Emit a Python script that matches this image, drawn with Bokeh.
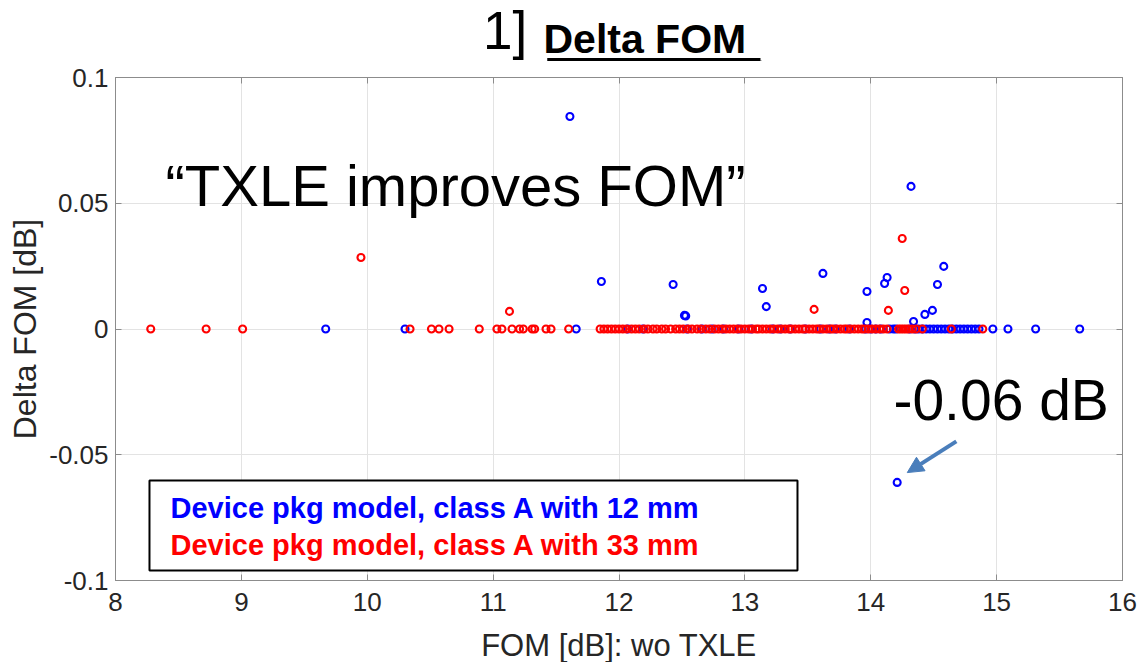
from bokeh.plotting import figure
from bokeh.layouts import column
from bokeh.models import (ColumnDataSource, FixedTicker, LinearAxis, Label, BoxAnnotation,
                          Arrow, NormalHead, Range1d, NumeralTickFormatter, CustomJSTickFormatter)
from bokeh.embed import file_html
from bokeh.resources import INLINE

# ---------------- data ----------------
x_ticks = [8, 9, 10, 11, 12, 13, 14, 15, 16]
y_ticks = [-0.1, -0.05, 0, 0.05, 0.1]

# 12 mm model (blue): FOM values whose delta is 0
blue_fom_zero = [9.67, 10.30, 11.66, 12.07, 12.19, 12.54, 12.66, 12.74, 12.83, 12.95,
                 13.05, 13.22, 13.28, 13.36, 13.48, 13.60, 13.67, 13.72, 13.83, 13.96,
                 14.00, 14.04, 14.08, 14.15, 14.18, 14.20, 14.31, 14.35, 14.38, 14.41,
                 14.44, 14.47, 14.50, 14.53, 14.56, 14.59, 14.62, 14.65, 14.68, 14.71,
                 14.74, 14.77, 14.80, 14.83, 14.86, 14.97, 15.09, 15.31, 15.66]
# 12 mm model (blue): points with non-zero delta
blue_fom_nz = [11.61, 14.32, 11.86, 12.43, 12.52, 12.53, 13.14, 13.17, 13.62, 13.97,
               13.97, 14.11, 14.13, 14.34, 14.43, 14.49, 14.53, 14.58, 14.21]
blue_delta_nz = [0.0845, 0.0567, 0.0189, 0.0177, 0.0054, 0.0052, 0.0161, 0.0089, 0.0221, 0.0149,
                 0.0026, 0.0181, 0.0205, 0.0030, 0.0058, 0.0074, 0.0177, 0.0249, -0.0610]

# 33 mm model (red): FOM values whose delta is 0
red_fom_zero = [8.28, 8.72, 9.01, 10.34, 10.51, 10.57, 10.65, 10.89, 11.03, 11.07,
                11.15, 11.21, 11.24, 11.31, 11.33, 11.42, 11.46, 11.60, 11.85, 11.88,
                11.91, 11.94, 11.97, 12.00, 12.03, 12.06, 12.10, 12.13, 12.16, 12.20,
                12.23, 12.27, 12.30, 12.34, 12.37, 12.41, 12.45, 12.48, 12.51, 12.55,
                12.58, 12.62, 12.65, 12.69, 12.72, 12.76, 12.79, 12.82, 12.85, 12.88,
                12.91, 12.94, 12.97, 13.00, 13.03, 13.06, 13.09, 13.11, 13.14, 13.17,
                13.20, 13.23, 13.26, 13.29, 13.32, 13.35, 13.37, 13.40, 13.43, 13.46,
                13.48, 13.51, 13.54, 13.57, 13.59, 13.62, 13.65, 13.68, 13.70, 13.73,
                13.76, 13.79, 13.81, 13.84, 13.87, 13.90, 13.93, 13.95, 13.98, 14.01,
                14.04, 14.07, 14.10, 14.13, 14.22, 14.24, 14.26, 14.28, 14.30, 14.33,
                14.36, 14.41, 14.64, 14.89]
# 33 mm model (red): points with non-zero delta
red_fom_nz = [9.95, 11.13, 13.55, 14.25, 14.27, 14.14]
red_delta_nz = [0.0284, 0.0070, 0.0078, 0.0360, 0.0153, 0.0074]

series_names = ["Device pkg model, class A with 12 mm", "Device pkg model, class A with 33 mm"]
x_label = "FOM [dB]: wo TXLE"
y_label = "Delta FOM [dB]"

# ---------------- layout sizes ----------------
FONT = "Liberation Sans"
TXT = "#262626"
AX = "#8c8c8c"
W = 1140
TOP_H = 61          # title strip
BOT_H = 38          # x-axis-title strip
MAIN_H = 662 - TOP_H - BOT_H

xr = Range1d(8, 16)

# ---------------- main figure ----------------
p = figure(width=W, height=MAIN_H, output_backend="svg", toolbar_location=None,
           x_range=xr, y_range=Range1d(-0.1, 0.1),
           min_border_left=115, min_border_right=18, min_border_top=77 - TOP_H,
           min_border_bottom=MAIN_H - (77 - TOP_H) - 503,
           background_fill_color="white", border_fill_color="white")
p.outline_line_color = AX
p.outline_line_width = 1

p.xgrid.ticker = FixedTicker(ticks=x_ticks)
p.ygrid.ticker = FixedTicker(ticks=y_ticks)
p.grid.grid_line_color = "#e3e3e3"
p.grid.grid_line_width = 1

xa = p.xaxis[0]
ya = p.yaxis[0]
xa.ticker = FixedTicker(ticks=x_ticks)
ya.ticker = FixedTicker(ticks=y_ticks)
ya.formatter = NumeralTickFormatter(format="0.[00]")
for ax in (xa, ya):
    ax.axis_line_color = AX
    ax.major_tick_line_color = AX
    ax.major_tick_in = 6
    ax.major_tick_out = 0
    ax.minor_tick_line_color = None
    ax.major_label_text_font = FONT
    ax.major_label_text_font_size = "26px"
    ax.major_label_text_color = TXT
    ax.axis_label_text_font = FONT
    ax.axis_label_text_font_size = "32px"
    ax.axis_label_text_font_style = "normal"
    ax.axis_label_text_color = TXT
ya.axis_label = y_label
xa.major_label_standoff = 12
ya.major_label_standoff = 7
ya.axis_label_standoff = 3

blank = CustomJSTickFormatter(code="return ''")
top_ax = LinearAxis(ticker=FixedTicker(ticks=x_ticks), formatter=blank)
right_ax = LinearAxis(ticker=FixedTicker(ticks=y_ticks), formatter=blank)
for ax in (top_ax, right_ax):
    ax.axis_line_color = AX
    ax.major_tick_line_color = AX
    ax.major_tick_in = 6
    ax.major_tick_out = 0
    ax.minor_tick_line_color = None
    ax.major_label_standoff = 0
    ax.major_label_text_font_size = "1px"
p.add_layout(top_ax, "above")
p.add_layout(right_ax, "right")

blue_src = ColumnDataSource(dict(x=blue_fom_zero + blue_fom_nz,
                                 y=[0.0] * len(blue_fom_zero) + blue_delta_nz))
red_src = ColumnDataSource(dict(x=red_fom_zero + red_fom_nz,
                                y=[0.0] * len(red_fom_zero) + red_delta_nz))
p.scatter("x", "y", source=blue_src, marker="circle", size=7, line_color="#0000ff",
          line_width=2.1, fill_color=None)
p.scatter("x", "y", source=red_src, marker="circle", size=7, line_color="#ff0000",
          line_width=2.1, fill_color=None)

p.add_layout(Label(x=8.397, y=0.0571, text="\u201cTXLE improves FOM\u201d", text_font=FONT,
                   text_font_size="58px", text_color="black", text_baseline="alphabetic"))
p.add_layout(Label(x=14.18, y=-0.0284, text="-0.06 dB", text_font=FONT,
                   text_font_size="57px", text_color="black", text_baseline="alphabetic"))
p.add_layout(Arrow(end=NormalHead(size=16, fill_color="#4a7ebb", line_color="#4a7ebb"),
                   x_start=14.68, y_start=-0.0447, x_end=14.29, y_end=-0.0571,
                   line_color="#4a7ebb", line_width=4))

p.add_layout(BoxAnnotation(left=8.27, right=13.418, top=-0.0602, bottom=-0.0960,
                           fill_color="white", fill_alpha=1.0, line_color="black",
                           line_width=2, line_alpha=1.0))
p.add_layout(Label(x=8.437, y=-0.0710, text=series_names[0], text_font=FONT,
                   text_font_size="29px", text_font_style="bold", text_color="#0000ff",
                   text_baseline="alphabetic"))
p.add_layout(Label(x=8.437, y=-0.0857, text=series_names[1], text_font=FONT,
                   text_font_size="29px", text_font_style="bold", text_color="#ff0000",
                   text_baseline="alphabetic"))

# ---------------- title strip: "1] Delta FOM" (underlined) ----------------
tf = figure(width=W, height=TOP_H, output_backend="svg", toolbar_location=None,
            x_range=xr, y_range=Range1d(0, TOP_H),
            min_border_left=115, min_border_right=18, min_border_top=0, min_border_bottom=0,
            x_axis_location=None, y_axis_location=None,
            background_fill_color="white", border_fill_color="white")
tf.outline_line_color = None
tf.xgrid.visible = False
tf.ygrid.visible = False
tf.add_layout(Label(x=10.92, y=31.5, text="1]", text_font=FONT, text_font_size="53px",
                    text_color="black", text_baseline="alphabetic", text_align="left"))
tf.add_layout(Label(x=11.40, y=23.0, text="Delta FOM", text_font=FONT, text_font_size="41px",
                    text_font_style="bold", text_color="black", text_baseline="alphabetic",
                    text_align="left"))
tf.add_layout(Arrow(end=None, x_start=11.445, y_start=0.6, x_end=13.135, y_end=0.6,
                    line_color="#9a9a9a", line_width=2, line_alpha=0.6))
tf.add_layout(Arrow(end=None, x_start=11.43, y_start=2.0, x_end=13.124, y_end=2.0,
                    line_color="black", line_width=3))

# ---------------- x-axis title strip ----------------
bf = figure(width=W, height=BOT_H, output_backend="svg", toolbar_location=None,
            x_range=xr, y_range=Range1d(0, BOT_H),
            min_border_left=115, min_border_right=18, min_border_top=0, min_border_bottom=0,
            x_axis_location=None, y_axis_location=None,
            background_fill_color="white", border_fill_color="white")
bf.outline_line_color = None
bf.xgrid.visible = False
bf.ygrid.visible = False
bf.add_layout(Label(x=12.0, y=17.0, text=x_label, text_font=FONT, text_font_size="31px",
                    text_color=TXT, text_baseline="alphabetic", text_align="center"))

layout = column(tf, p, bf, spacing=0)
open("out.html", "w").write(file_html(layout, INLINE))
